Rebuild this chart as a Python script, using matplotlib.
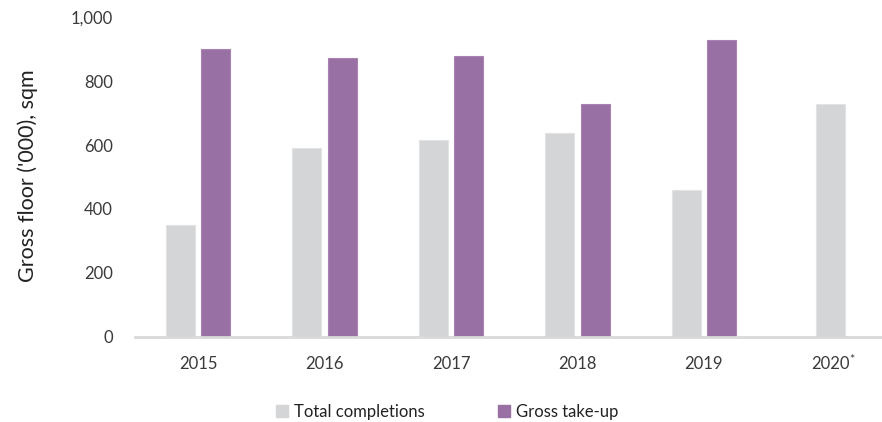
import matplotlib
matplotlib.use("Agg")
import matplotlib.pyplot as plt
import numpy as np

years = ["2015", "2016", "2017", "2018", "2019", "2020*"]
completions = [351, 592, 617, 638, 458, 728]
take_up = [900, 872, 879, 728, 928, None]

GREY = "#d4d5d7"
PURPLE = "#9970a4"
TEXT = "#3a3a3a"

plt.rcParams["font.family"] = ["Lato", "DejaVu Sans"]

fig = plt.figure(figsize=(8.82, 4.22), dpi=100)
ax = fig.add_axes([135 / 882, (422 - 336.5) / 422, 1 - 135 / 882, (336.5 - 17.5) / 422])

x = np.arange(len(years))
bw = 0.23
gap = 0.025
for i in range(len(years)):
    if take_up[i] is None:
        ax.bar(x[i], completions[i], width=bw, color=GREY, edgecolor="#e2e3e4",
               linewidth=0.8, zorder=2)
    else:
        ax.bar(x[i] - bw / 2 - gap, completions[i], width=bw, color=GREY,
               edgecolor="#e2e3e4", linewidth=0.8, zorder=2)
        ax.bar(x[i] + bw / 2 + gap, take_up[i], width=bw, color=PURPLE,
               edgecolor="#a883b2", linewidth=0.8, zorder=2)

ax.set_xlim(-0.5, 5.41)
ax.set_ylim(0, 1000)
ax.set_yticks(np.arange(0, 1001, 200))
ax.set_yticklabels([f"{v:,}" for v in range(0, 1001, 200)])
ax.set_xticks(x)
# footnote marker is drawn separately as a small raised asterisk
ax.set_xticklabels([y.rstrip("*") for y in years])
for i, y in enumerate(years):
    if y.endswith("*"):
        ax.annotate("*", xy=(x[i], 0), xycoords=("data", "axes fraction"),
                    xytext=(15.5, -17), textcoords="offset points",
                    ha="center", va="center", fontsize=9, color=TEXT)

for s in ["top", "right", "left"]:
    ax.spines[s].set_visible(False)
ax.spines["bottom"].set_color("#d9d9d9")
ax.spines["bottom"].set_linewidth(2)
ax.spines["bottom"].set_zorder(3)
ax.tick_params(axis="both", length=0, labelsize=12, colors=TEXT)
ax.tick_params(axis="y", pad=16)
ax.tick_params(axis="x", pad=14)

fig.text(28 / 882, (422 - 176) / 422, "Gross floor ('000), sqm", rotation=90,
         ha="center", va="center", fontsize=15.5, color="#222222")

h1 = plt.Rectangle((0, 0), 1, 1, color=GREY)
h2 = plt.Rectangle((0, 0), 1, 1, color=PURPLE)
fig.legend([h1, h2], ["Total completions", "Gross take-up"], loc="center",
           bbox_to_anchor=(447 / 882, 10 / 422), ncol=2, frameon=False,
           fontsize=12, handlelength=0.72, handleheight=0.72, handletextpad=0.35,
           columnspacing=4.4, labelcolor="#222222")

fig.savefig("out.png", dpi=100)
